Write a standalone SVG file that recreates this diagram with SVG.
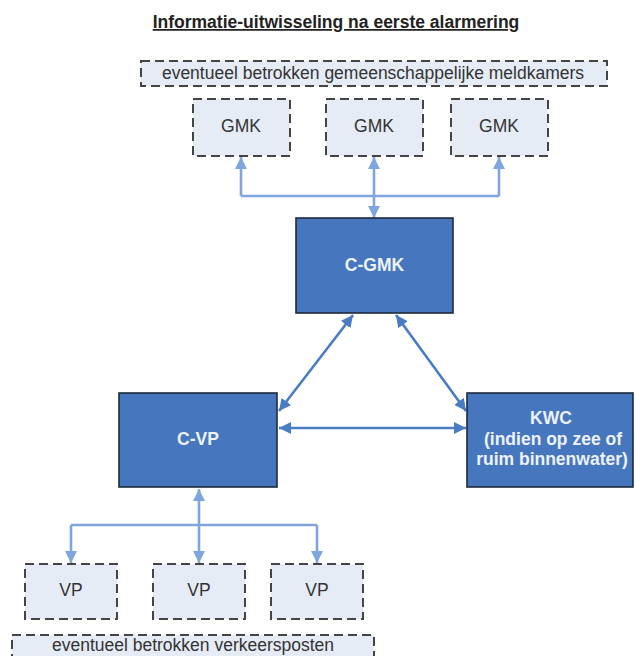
<svg xmlns="http://www.w3.org/2000/svg" width="636" height="656" viewBox="0 0 636 656">
  <defs>
    <style>
      .title { font-family: "Liberation Sans", Arial, sans-serif; font-size: 17.5px; font-weight: bold; fill: #222; text-decoration: underline; }
      .opt { fill: #E6ECF6; stroke: #444; stroke-width: 2; stroke-dasharray: 9 5; }
      .optText { font-family: "Liberation Sans", Arial, sans-serif; font-size: 17.5px; fill: #333; text-anchor: middle; }
      .main { fill: #4677BE; stroke: #1E2A3A; stroke-width: 1.6; }
      .mainText { font-family: "Liberation Sans", Arial, sans-serif; font-size: 17.5px; font-weight: bold; fill: #EEF2F9; text-anchor: middle; }
      .light { fill: none; stroke: #7FA6DC; stroke-width: 2.6; marker-start: url(#headLight); marker-end: url(#headLight); }
      .lightLine { fill: none; stroke: #7FA6DC; stroke-width: 2.6; }
      .lightEnd { fill: none; stroke: #7FA6DC; stroke-width: 2.6; marker-end: url(#headLight); }
      .dark { fill: none; stroke: #4A7CC4; stroke-width: 2.6; marker-start: url(#headDark); marker-end: url(#headDark); }
    </style>
    <marker id="headLight" viewBox="0 0 10 10" refX="10" refY="5" markerWidth="12" markerHeight="12" markerUnits="userSpaceOnUse" orient="auto-start-reverse">
      <path d="M0,0 L10,5 L0,10 z" fill="#7FA6DC"/>
    </marker>
    <marker id="headDark" viewBox="0 0 10 10" refX="10" refY="5" markerWidth="12" markerHeight="12" markerUnits="userSpaceOnUse" orient="auto-start-reverse">
      <path d="M0,0 L10,5 L0,10 z" fill="#4A7CC4"/>
    </marker>
  </defs>

  <rect width="636" height="656" fill="#FFFFFF"/>

  <text class="title" x="336" y="28" text-anchor="middle">Informatie-uitwisseling na eerste alarmering</text>

  <!-- connectors -->
  <g id="connectors">
    <!-- C-GMK to the regional control rooms -->
    <path class="lightLine" d="M241,196 H499"/>
    <path class="light" d="M374,218 V157"/>
    <path class="lightEnd" d="M241,196 V157"/>
    <path class="lightEnd" d="M499,196 V157"/>
    <!-- triangle between the coordinating posts -->
    <path class="dark" d="M353,315 L279,411"/>
    <path class="dark" d="M396,315 L466,411"/>
    <path class="dark" d="M279,428 H466"/>
    <!-- C-VP to the traffic posts -->
    <path class="lightLine" d="M71,525 H317"/>
    <path class="light" d="M199,489 V563"/>
    <path class="lightEnd" d="M71,525 V563"/>
    <path class="lightEnd" d="M317,525 V563"/>
  </g>

  <g id="gmk-label">
    <rect class="opt" x="141" y="61" width="466" height="25"/>
    <text class="optText" x="373" y="79">eventueel betrokken gemeenschappelijke meldkamers</text>
  </g>

  <g id="gmk-1">
    <rect class="opt" x="193" y="99" width="97" height="57"/>
    <text class="optText" x="241" y="132">GMK</text>
  </g>
  <g id="gmk-2">
    <rect class="opt" x="326" y="99" width="97" height="57"/>
    <text class="optText" x="374" y="132">GMK</text>
  </g>
  <g id="gmk-3">
    <rect class="opt" x="451" y="99" width="97" height="57"/>
    <text class="optText" x="499" y="132">GMK</text>
  </g>

  <g id="c-gmk">
    <rect class="main" x="296" y="218" width="157" height="95"/>
    <text class="mainText" x="374.5" y="271">C-GMK</text>
  </g>

  <g id="c-vp">
    <rect class="main" x="119" y="393" width="158" height="94"/>
    <text class="mainText" x="198" y="445">C-VP</text>
  </g>

  <g id="kwc">
    <rect class="main" x="467" y="393" width="166" height="94"/>
    <text class="mainText" x="551" y="424">KWC</text>
    <text class="mainText" x="553" y="445">(indien op zee of</text>
    <text class="mainText" x="552" y="465">ruim binnenwater)</text>
  </g>

  <g id="vp-1">
    <rect class="opt" x="25" y="564" width="92" height="55"/>
    <text class="optText" x="71" y="596">VP</text>
  </g>
  <g id="vp-2">
    <rect class="opt" x="153" y="564" width="92" height="55"/>
    <text class="optText" x="199" y="596">VP</text>
  </g>
  <g id="vp-3">
    <rect class="opt" x="271" y="564" width="92" height="55"/>
    <text class="optText" x="317" y="596">VP</text>
  </g>

  <g id="vp-label">
    <rect class="opt" x="12" y="635" width="362" height="30"/>
    <text class="optText" x="193" y="651">eventueel betrokken verkeersposten</text>
  </g>
</svg>
